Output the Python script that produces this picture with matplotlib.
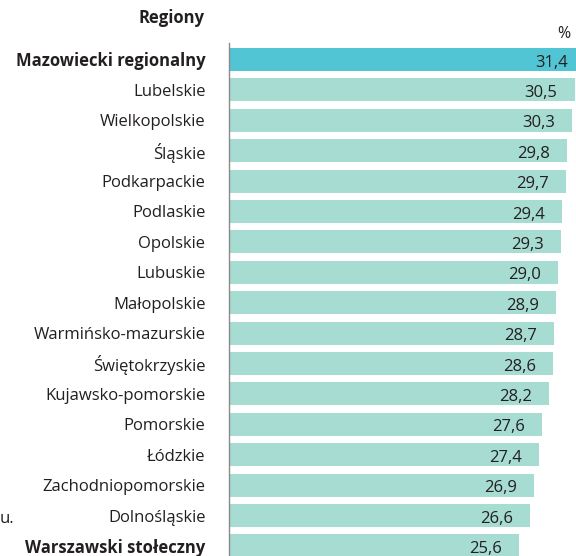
import matplotlib
matplotlib.use("Agg")
import matplotlib.pyplot as plt

categories = ["Mazowiecki regionalny", "Lubelskie", "Wielkopolskie", "Śląskie", "Podkarpackie",
              "Podlaskie", "Opolskie", "Lubuskie", "Małopolskie", "Warmińsko-mazurskie",
              "Świętokrzyskie", "Kujawsko-pomorskie", "Pomorskie", "Łódzkie",
              "Zachodniopomorskie", "Dolnośląskie", "Warszawski stołeczny"]
values = [31.4, 30.5, 30.3, 29.8, 29.7, 29.4, 29.3, 29.0, 28.9, 28.7, 28.6, 28.2, 27.6, 27.4,
          26.9, 26.6, 25.6]
bold_labels = ["Mazowiecki regionalny", "Warszawski stołeczny"]
highlight = "Mazowiecki regionalny"

plt.rcParams['font.family'] = ['Open Sans', 'DejaVu Sans']

W, H = 576, 556
fig = plt.figure(figsize=(W / 100, H / 100), dpi=100)
ax = fig.add_axes([229 / W, 0, 1 - 229 / W, (H - 43) / H])

colors = ["#52C5D5" if c == highlight else "#A6DCD1" for c in categories]
ypos = list(range(len(categories)))
ax.barh(ypos, values, height=0.76, color=colors, clip_on=True)

scale = 11.33  # px per unit
xmax = (W - 229) / scale
ax.set_xlim(0, xmax)
ax.set_ylim(16 + (556 - 545.9) / 30.4, -(59.5 - 43) / 30.4)

for y, v in zip(ypos, values):
    ax.text(v - 17 / scale, y + 0.1, f"{v:.1f}".replace(".", ","), ha="right", va="center",
            fontsize=12, color="#231f20")

ax.set_yticks(ypos)
ax.set_yticklabels(categories, fontsize=12, color="#231f20")
for lbl in ax.get_yticklabels():
    if lbl.get_text() in bold_labels:
        lbl.set_fontweight("bold")
ax.tick_params(axis="y", length=0, pad=17)
ax.set_xticks([])
for s in ["top", "right", "bottom"]:
    ax.spines[s].set_visible(False)
ax.spines["left"].set_color("#8a8a8a")
ax.spines["left"].set_linewidth(1.0)

fig.text(204 / W, 1 - 18 / H, "Regiony", ha="right", va="center", fontsize=12,
         fontweight="bold", color="#231f20")
fig.text(564 / W, 1 - 34 / H, "%", ha="center", va="center", fontsize=11.5, color="#231f20")
fig.text(0, 1 - 519 / H, "u.", ha="left", va="center", fontsize=12, color="#231f20")

fig.savefig("out.png", dpi=100)
